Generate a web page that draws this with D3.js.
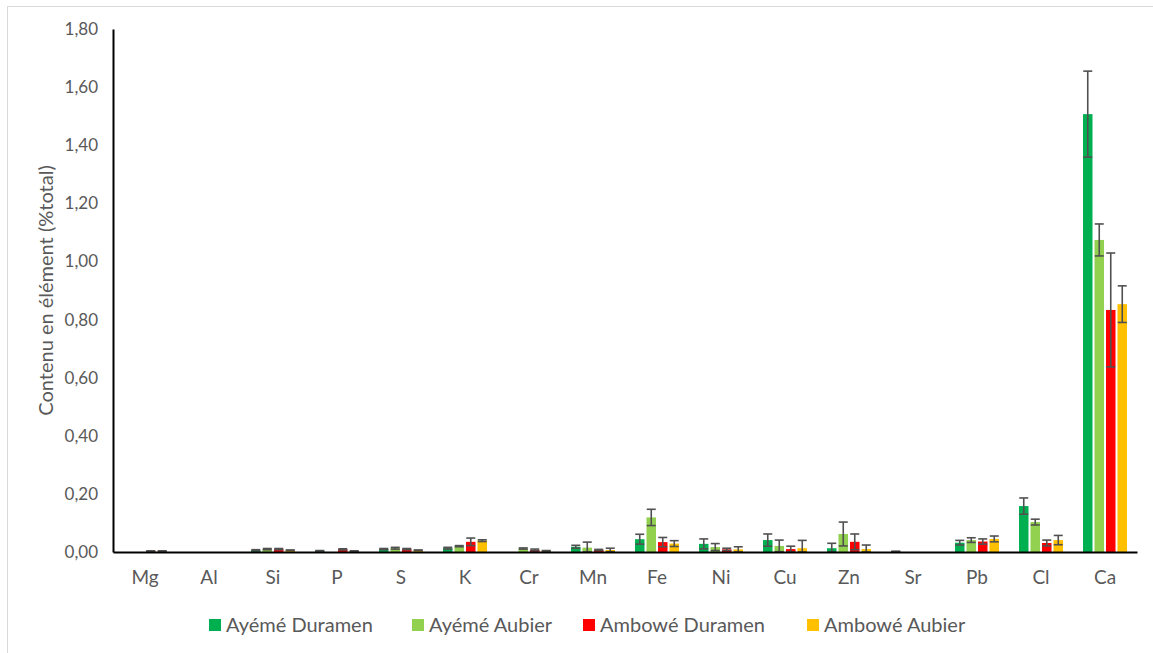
<!DOCTYPE html>
<html>
<head>
<meta charset="utf-8">
<script src="https://cdn.jsdelivr.net/npm/d3@7"></script>
<style>
  html, body { margin: 0; padding: 0; background: #fff; }
  svg { display: block; }
  text { font-family: Lato, "Open Sans", sans-serif; fill: #595959; }
</style>
</head>
<body>
<svg id="chart" width="1153" height="653"></svg>
<script>
const categories = ["Mg","Al","Si","P","S","K","Cr","Mn","Fe","Ni","Cu","Zn","Sr","Pb","Cl","Ca"];
const seriesNames = ["Ayémé Duramen","Ayémé Aubier","Ambowé Duramen","Ambowé Aubier"];
const seriesColors = ["#00b050","#92d050","#ff0000","#ffc000"];

const ayemeDuramen    = [0,     0, 0.006, 0.004, 0.010, 0.013, 0,     0.018, 0.044, 0.028, 0.041, 0.013, 0.002, 0.032, 0.158, 1.507];
const ayemeDuramenErr = [0,     0, 0.002, 0.001, 0.002, 0.003, 0,     0.005, 0.017, 0.017, 0.021, 0.017, 0,     0.008, 0.028, 0.148];
const ayemeAubier     = [0,     0, 0.010, 0,     0.013, 0.020, 0.012, 0.015, 0.119, 0.017, 0.021, 0.062, 0,     0.041, 0.103, 1.074];
const ayemeAubierErr  = [0,     0, 0.002, 0,     0.003, 0.002, 0.002, 0.019, 0.028, 0.012, 0.020, 0.041, 0,     0.008, 0.010, 0.055];
const amboweDuramen   = [0.003, 0, 0.010, 0.009, 0.010, 0.035, 0.007, 0.007, 0.034, 0.009, 0.010, 0.035, 0,     0.036, 0.031, 0.833];
const amboweDuramenErr= [0.001, 0, 0.002, 0.002, 0.002, 0.013, 0.003, 0.002, 0.016, 0.004, 0.010, 0.027, 0,     0.009, 0.010, 0.196];
const amboweAubier    = [0.003, 0, 0.006, 0.003, 0.006, 0.039, 0.004, 0.007, 0.029, 0.009, 0.013, 0.010, 0,     0.045, 0.041, 0.853];
const amboweAubierErr = [0.001, 0, 0.001, 0.001, 0.001, 0.003, 0.001, 0.006, 0.010, 0.009, 0.027, 0.014, 0,     0.010, 0.016, 0.063];

const yTicks = [0, 0.2, 0.4, 0.6, 0.8, 1.0, 1.2, 1.4, 1.6, 1.8];
const yTitle = "Contenu en élément (%total)";

const values = [ayemeDuramen, ayemeAubier, amboweDuramen, amboweAubier];
const errors = [ayemeDuramenErr, ayemeAubierErr, amboweDuramenErr, amboweAubierErr];

const data = [];
categories.forEach((c, i) => {
  seriesNames.forEach((s, j) => {
    data.push({cat: c, series: s, value: values[j][i], err: errors[j][i], color: seriesColors[j]});
  });
});

const svg = d3.select("#chart");

// chart border
svg.append("rect").attr("x", 7.5).attr("y", 6.5).attr("width", 1160).attr("height", 670)
  .attr("fill", "none").attr("stroke", "#d9d9d9").attr("stroke-width", 1);

const pLeft = 113, pRight = 1137, pTop = 29, pBottom = 552;

const x = d3.scaleBand().domain(categories).range([pLeft, pRight]).padding(0);
const xs = d3.scaleBand().domain(seriesNames).range([0, x.bandwidth()]).paddingInner(0.174).paddingOuter(0.87);
const y = d3.scaleLinear().domain([0, 1.8]).range([pBottom, pTop]);

const fmt = v => d3.format(".2f")(v).replace(".", ",");

// bars
svg.append("g").selectAll("rect").data(data).join("rect")
  .attr("x", d => x(d.cat) + xs(d.series))
  .attr("y", d => y(d.value))
  .attr("width", xs.bandwidth())
  .attr("height", d => y(0) - y(d.value))
  .attr("fill", d => d.color);

// error bars
const eb = svg.append("g").attr("stroke", "#505050").attr("stroke-width", 1.6).attr("fill", "none");
const withErr = data.filter(d => d.value > 0 || d.err > 0);
withErr.forEach(d => {
  const cx = x(d.cat) + xs(d.series) + xs.bandwidth() / 2;
  const hw = 4.5;
  const lo = Math.max(0, d.value - d.err), hi = d.value + d.err;
  eb.append("line").attr("x1", cx).attr("x2", cx).attr("y1", y(lo)).attr("y2", y(hi));
  eb.append("line").attr("x1", cx - hw).attr("x2", cx + hw).attr("y1", y(hi)).attr("y2", y(hi));
  eb.append("line").attr("x1", cx - hw).attr("x2", cx + hw).attr("y1", y(lo)).attr("y2", y(lo));
});

// y axis
const yAxis = d3.axisLeft(y).tickValues(yTicks).tickFormat(fmt).tickSize(0).tickPadding(15);
const gy = svg.append("g").attr("transform", `translate(${pLeft},0)`).call(yAxis);
gy.select(".domain").attr("stroke", "#000").attr("stroke-width", 2);
gy.selectAll("text").style("font-size", "17px").style("fill", "#595959").style("font-family", "Lato, 'Open Sans', sans-serif");

// x axis
const xAxis = d3.axisBottom(x).tickSize(0).tickPadding(19);
const gx = svg.append("g").attr("transform", `translate(0,${pBottom})`).call(xAxis);
gx.select(".domain").attr("stroke", "#000").attr("stroke-width", 2);
gx.selectAll("text").style("font-size", "19px").style("fill", "#595959").style("font-family", "Lato, 'Open Sans', sans-serif");

// y title
svg.append("text")
  .attr("transform", `translate(53,${(pTop + pBottom) / 2}) rotate(-90)`)
  .attr("text-anchor", "middle")
  .style("font-size", "20px")
  .text(yTitle);

// legend
const legendX = [209, 412, 583, 807];
const lg = svg.append("g");
seriesNames.forEach((s, j) => {
  lg.append("rect").attr("x", legendX[j]).attr("y", 619).attr("width", 12).attr("height", 12).attr("fill", seriesColors[j]);
  lg.append("text").attr("x", legendX[j] + 17).attr("y", 632).style("font-size", "20px").text(s);
});
</script>
</body>
</html>
